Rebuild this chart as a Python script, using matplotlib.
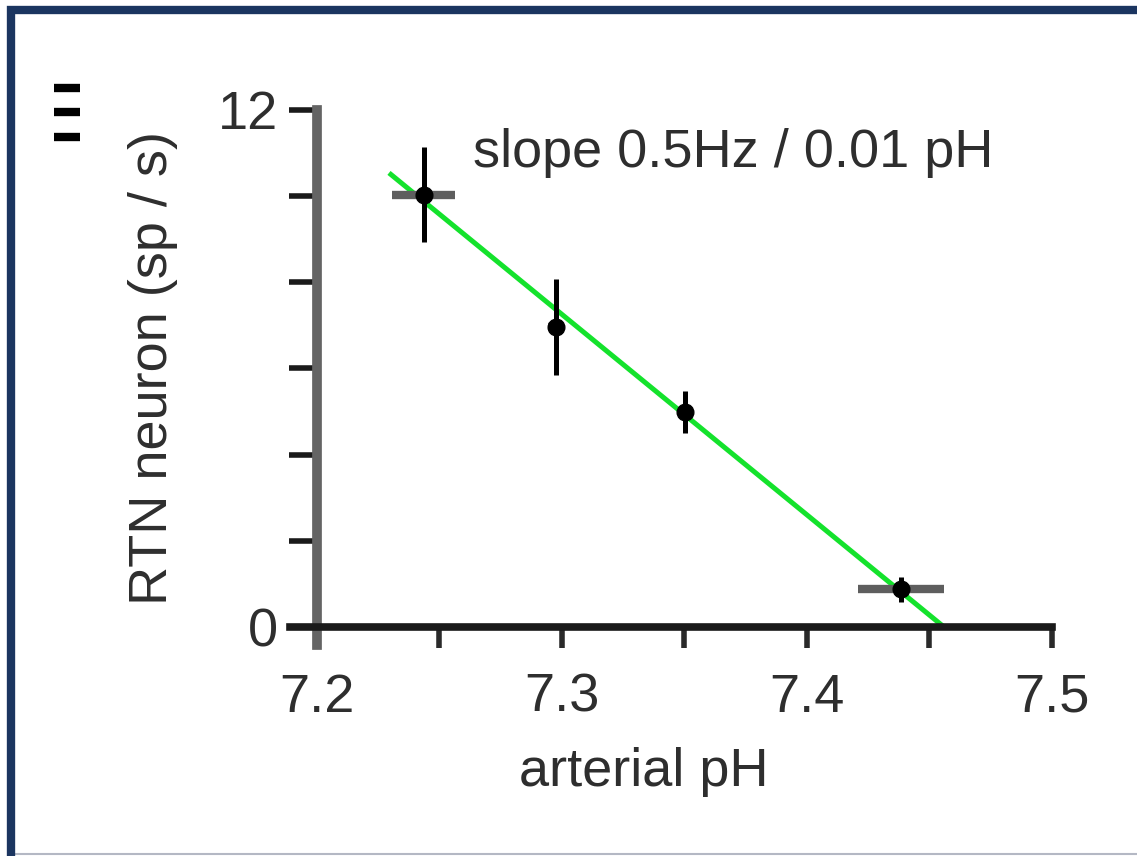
import matplotlib
matplotlib.use("Agg")
import matplotlib.pyplot as plt
from matplotlib.patches import Rectangle
from matplotlib.lines import Line2D

# ---- data ----
ph = [7.2436, 7.2974, 7.3504, 7.4385]
rate = [10.03, 6.96, 4.99, 0.88]
rate_err = [1.10, 1.11, 0.49, 0.29]
ph_err = [0.0129, 0.003, 0.0, 0.0175]
fit_ph = [7.2294, 7.456]
fit_rate = [10.54, 0.0]
xticks = [7.2, 7.25, 7.3, 7.35, 7.4, 7.45, 7.5]
xticklabels = ["7.2", "", "7.3", "", "7.4", "", "7.5"]
yticks = [0, 2, 4, 6, 8, 10, 12]
yticklabels = ["0", "", "", "", "", "", "12"]
annotation = "slope 0.5Hz / 0.01 pH"
xlabel = "arterial pH"
ylabel = "RTN neuron (sp / s)"

plt.rcParams['font.family'] = ['Liberation Sans', 'DejaVu Sans']
FS = 39
TXT = '#2e2e2e'

fig = plt.figure(figsize=(11.37, 8.56), dpi=100)
fig.patch.set_facecolor('white')

ax = fig.add_axes([0.2551, 0.2465, 0.671, 0.625])
ax.set_xlim(7.189, 7.5005)
ax.set_ylim(-0.418, 12)

for s in ['top', 'right']:
    ax.spines[s].set_visible(False)
ax.spines['left'].set_position(('data', 7.2))
ax.spines['left'].set_bounds(-0.418, 12)
ax.spines['left'].set_color('#646464')
ax.spines['left'].set_linewidth(7)
ax.spines['bottom'].set_position(('data', 0))
ax.spines['bottom'].set_bounds(7.189, 7.5)
ax.spines['bottom'].set_color('#1a1a1a')
ax.spines['bottom'].set_linewidth(5.5)

ax.set_xticks(xticks)
ax.set_xticklabels(xticklabels)
ax.set_yticks(yticks)
ax.set_yticklabels(yticklabels)
ax.tick_params(axis='x', direction='out', length=15, width=4, color='#2a2a2a',
               labelsize=FS, labelcolor=TXT, pad=18)
ax.tick_params(axis='y', direction='out', length=20, width=4, color='#1a1a1a',
               labelsize=FS, labelcolor=TXT, pad=8)

# fit line
ax.plot(fit_ph, fit_rate, color='#14e22c', lw=3.6, zorder=2, solid_capstyle='butt')

# horizontal error bars (gray)
ax.errorbar(ph, rate, xerr=ph_err, fmt='none', ecolor='#5e5e5e', elinewidth=6,
            capsize=0, zorder=3)
# vertical error bars + markers (black)
ax.errorbar(ph, rate, yerr=rate_err, fmt='o', color='black', ms=12,
            ecolor='black', elinewidth=3.6, capsize=0, zorder=4)

ax.text(7.2636, 10.68, annotation, fontsize=FS, color=TXT, va='baseline', ha='left')

ax.set_xlabel(xlabel, fontsize=FS, color=TXT)
ax.xaxis.set_label_coords(0.464, -0.19)
ax.set_ylabel(ylabel, fontsize=FS, color=TXT)
ax.yaxis.set_label_coords(-0.147, 0.518)

# frame border
fig.patches.append(Rectangle((10.5 / 1137, -0.2), 1.5, 0.2 + (856 - 10) / 856,
                             transform=fig.transFigure, fill=False,
                             edgecolor='#1b3560', linewidth=6, zorder=10))
fig.lines.append(Line2D([15 / 1137, 1.0], [2 / 856, 2 / 856], transform=fig.transFigure,
                        color='#b4b8c4', lw=1.5))

# small panel mark (three bars)
for yy in [88, 112, 137]:
    fig.lines.append(Line2D([54 / 1137, 80 / 1137], [(856 - yy) / 856] * 2,
                            transform=fig.transFigure, color='black', lw=6,
                            solid_capstyle='butt'))

fig.savefig('out.png', dpi=100)
